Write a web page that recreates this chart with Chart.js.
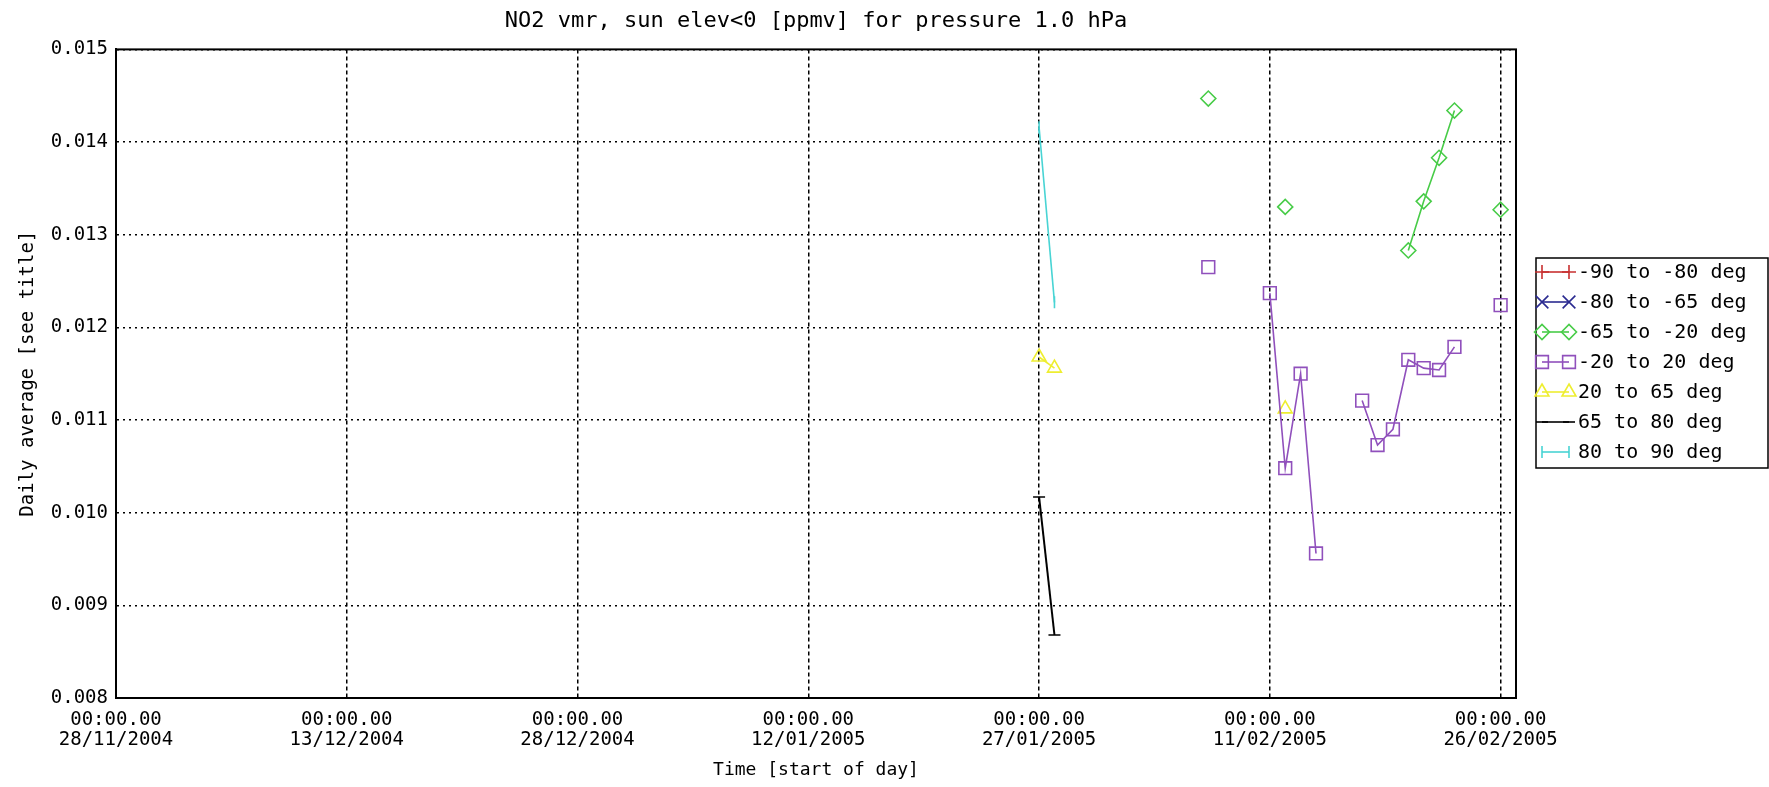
<!DOCTYPE html>
<html>
<head>
<meta charset="utf-8">
<title>NO2 vmr, sun elev&lt;0</title>
<script src="https://cdn.jsdelivr.net/npm/chart.js"></script>
<style>
  html, body { margin: 0; padding: 0; background: #fff; }
  #wrap { position: relative; width: 1769px; height: 787px; }
</style>
</head>
<body>
<div id="wrap"><canvas id="chart"></canvas></div>
<script>
// axis setup
const startDate = '28/11/2004';
const endDate = '27/02/2005';
const xTickLabels = ['28/11/2004', '13/12/2004', '28/12/2004', '12/01/2005', '27/01/2005', '11/02/2005', '26/02/2005'];
const timeLabel = '00:00.00';
const yTickLabels = ['0.008', '0.009', '0.010', '0.011', '0.012', '0.013', '0.014', '0.015'];

// days with data (plus one empty day wherever the record breaks)
const days = ['27/01/2005', '28/01/2005', '29/01/2005', '07/02/2005', '08/02/2005', '11/02/2005', '12/02/2005',
    '13/02/2005', '14/02/2005', '15/02/2005', '17/02/2005', '18/02/2005', '19/02/2005', '20/02/2005',
    '21/02/2005', '22/02/2005', '23/02/2005', '24/02/2005', '26/02/2005'];

const seriesNames = ['-90 to -80 deg', '-80 to -65 deg', '-65 to -20 deg', '-20 to 20 deg', '20 to 65 deg', '65 to 80 deg', '80 to 90 deg'];

const lat90to80 = [];
const lat80to65 = [];
const lat65to20 = [null, null, null, 0.01447, null, null, 0.01330, null, null, null, null, null, null, 0.01283, 0.01336, 0.01383, 0.01434, null, 0.01327];
const lat20to20 = [null, null, null, 0.01265, null, 0.01237, 0.01048, 0.01150, 0.00956, null, 0.01121, 0.01073, 0.01090, 0.01165, 0.01156, 0.01154, 0.01179, null, 0.01224];
const lat20to65 = [0.01168, 0.01156, null, null, null, null, 0.01112];
const lat65to80 = [0.01017, 0.00868, null];
const lat80to90 = [0.01416, 0.01227, null];

// styles
const FONT = "'DejaVu Sans Mono', monospace";
const colors = ['#c83030', '#2a2a90', '#48cc48', '#9050bc', '#eeee30', '#000000', '#48d4d4'];
const markers = [
    { pointStyle: 'cross', rotation: 0, radius: 7 },
    { pointStyle: 'crossRot', rotation: 0, radius: 9 },
    { pointStyle: 'rectRot', rotation: 0, radius: 7.5 },
    { pointStyle: 'rect', rotation: 0, radius: 9 },
    { pointStyle: 'triangle', rotation: 0, radius: 8 },
    { pointStyle: 'line', rotation: 0, radius: 6 },
    { pointStyle: 'line', rotation: 90, radius: 6 }
];

function dayNumber(s) {
    const [d, m, y] = s.split('/').map(Number);
    const [d0, m0, y0] = startDate.split('/').map(Number);
    return (Date.UTC(y, m - 1, d) - Date.UTC(y0, m0 - 1, d0)) / 86400000;
}

function toPoints(values) {
    return values.map((v, i) => ({ x: dayNumber(days[i]), y: v }));
}

const allSeries = [lat90to80, lat80to65, lat65to20, lat20to20, lat20to65, lat65to80, lat80to90];

const datasets = allSeries.map((vals, i) => ({
    label: seriesNames[i],
    data: toPoints(vals),
    borderColor: colors[i],
    backgroundColor: 'rgba(0,0,0,0)',
    borderWidth: i === 5 ? 2 : 1.6,
    pointStyle: markers[i].pointStyle,
    rotation: markers[i].rotation,
    pointRadius: markers[i].radius,
    pointBorderColor: colors[i],
    pointBackgroundColor: 'rgba(0,0,0,0)',
    pointBorderWidth: 1.6,
    spanGaps: false,
    tension: 0
}));

// closes the plot box on the top and right
const frame = {
    id: 'frame',
    beforeDatasetsDraw(chart) {
        const { ctx, chartArea: a } = chart;
        ctx.save();
        ctx.strokeStyle = '#000';
        ctx.lineWidth = 2;
        ctx.strokeRect(a.left, a.top, a.right - a.left, a.bottom - a.top);
        ctx.restore();
    }
};

// IDL style legend box on the right
const sideLegend = {
    id: 'sideLegend',
    afterDraw(chart) {
        const ctx = chart.ctx;
        const box = { left: 1536, top: 258, right: 1768, bottom: 468 };
        ctx.save();
        ctx.strokeStyle = '#000';
        ctx.lineWidth = 1.5;
        ctx.strokeRect(box.left, box.top, box.right - box.left, box.bottom - box.top);
        ctx.font = '20px ' + FONT;
        ctx.textBaseline = 'middle';
        ctx.textAlign = 'left';
        chart.data.datasets.forEach((ds, i) => {
            const y = box.top + 14 + i * 30;
            const x1 = box.left + 6, x2 = box.left + 33;
            ctx.strokeStyle = ds.borderColor;
            ctx.fillStyle = 'rgba(0,0,0,0)';
            ctx.lineWidth = 1.6;
            ctx.beginPath();
            ctx.moveTo(x1, y);
            ctx.lineTo(x2, y);
            ctx.stroke();
            const opts = { pointStyle: ds.pointStyle, rotation: ds.rotation, radius: ds.pointRadius, borderWidth: 1.6 };
            Chart.helpers.drawPoint(ctx, opts, x1, y);
            Chart.helpers.drawPoint(ctx, opts, x2, y);
            ctx.fillStyle = '#000';
            ctx.fillText(ds.label, box.left + 42, y + 1);
        });
        ctx.restore();
    }
};

new Chart(document.getElementById('chart'), {
    type: 'line',
    data: { datasets },
    plugins: [frame, sideLegend],
    options: {
        responsive: true,
        maintainAspectRatio: false,
        animation: false,
        layout: { padding: { left: 0, right: 253, top: 0, bottom: 0 } },
        plugins: {
            legend: { display: false },
            tooltip: { enabled: false },
            title: {
                display: true,
                fullSize: false,
                text: 'NO2 vmr, sun elev<0 [ppmv] for pressure 1.0 hPa',
                color: '#000',
                font: { family: FONT, size: 22, weight: 'normal', lineHeight: 1.2 },
                padding: { top: 8, bottom: 15 }
            }
        },
        scales: {
            x: {
                type: 'linear',
                min: dayNumber(startDate),
                max: dayNumber(endDate),
                afterFit(scale) { scale.height = 89; },
                ticks: {
                    stepSize: 15,
                    includeBounds: false,
                    autoSkip: false,
                    maxRotation: 0,
                    padding: 12,
                    color: '#000',
                    font: { family: FONT, size: 19, lineHeight: 1.05 },
                    callback: (v) => [timeLabel, xTickLabels[Math.round(v / 15)]]
                },
                grid: { color: '#000', lineWidth: 1.5, drawTicks: false },
                border: { display: true, color: '#000', width: 2, dash: [4, 3] },
                title: {
                    display: true,
                    text: 'Time [start of day]',
                    color: '#000',
                    font: { family: FONT, size: 18, lineHeight: 1.2 },
                    padding: { top: 0, bottom: 6 }
                }
            },
            y: {
                min: 0.008,
                max: 0.015,
                afterFit(scale) { scale.width = 116; },
                ticks: {
                    stepSize: 0.001,
                    padding: 8,
                    color: '#000',
                    font: { family: FONT, size: 19 },
                    callback: (v) => yTickLabels[Math.round((v - 0.008) / 0.001)]
                },
                grid: { color: '#000', lineWidth: 1.5, drawTicks: false },
                border: { display: true, color: '#000', width: 2, dash: [2, 4] },
                title: {
                    display: true,
                    text: 'Daily average [see title]',
                    color: '#000',
                    font: { family: FONT, size: 19, lineHeight: 1.2 },
                    padding: { top: 17, bottom: 0 }
                }
            }
        }
    }
});
</script>
</body>
</html>
